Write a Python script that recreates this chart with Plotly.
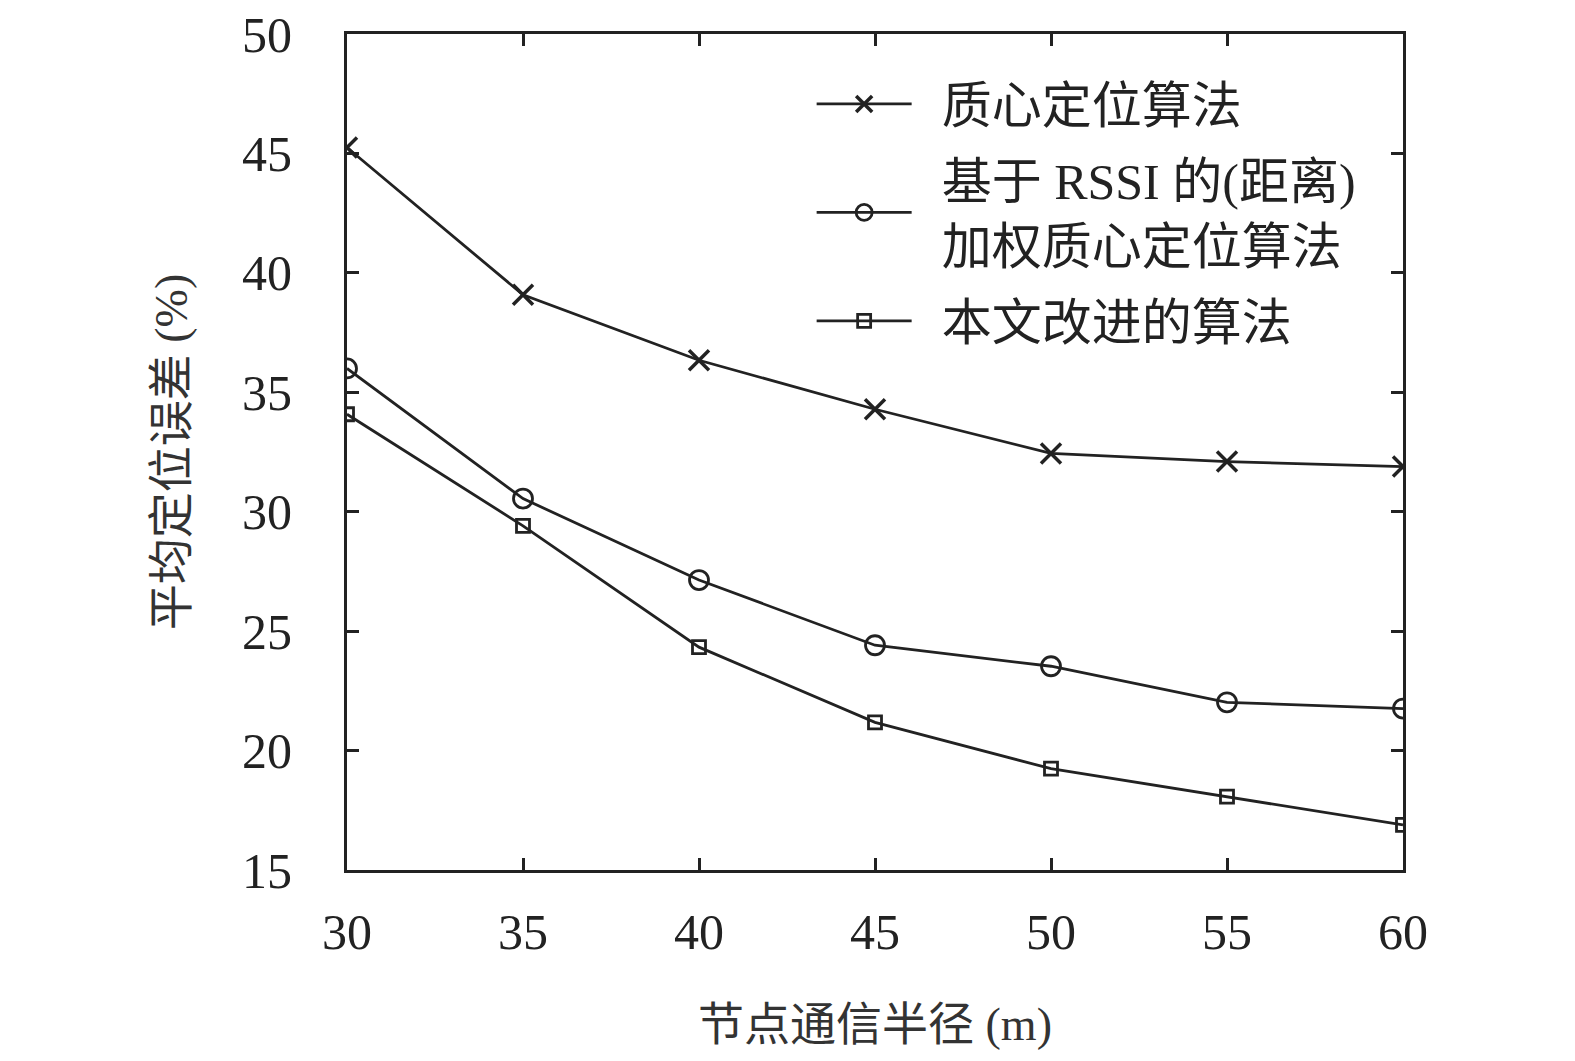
import plotly.graph_objects as go

radius = [30, 35, 40, 45, 50, 55, 60]
centroid = [45.25, 39.08, 36.34, 34.29, 32.44, 32.1, 31.89]
weighted = [36.0, 30.55, 27.14, 24.41, 23.53, 22.02, 21.76]
improved = [34.08, 29.41, 24.33, 21.18, 19.24, 18.07, 16.89]

pad = "\u00a0\u00a0"
names = [pad + "质心定位算法",
         pad + "基于 RSSI 的(距离)<br>" + pad + "加权质心定位算法",
         pad + "本文改进的算法"]

FONT = "Liberation Serif, Times New Roman, Noto Sans CJK SC, serif"
INK = "#222"

fig = go.Figure()
fig.add_trace(go.Scatter(x=radius, y=centroid, name=names[0], legendgroup="a",
                         mode="lines+markers", line=dict(color=INK, width=2.8),
                         marker=dict(symbol="x-thin", size=20, line=dict(color=INK, width=3.5))))
fig.add_trace(go.Scatter(x=radius, y=weighted, name=names[1], legendgroup="b",
                         mode="lines+markers", line=dict(color=INK, width=2.8),
                         marker=dict(symbol="circle-open", size=19, color=INK, line=dict(width=2.8))))
fig.add_trace(go.Scatter(x=radius, y=improved, name=names[2], legendgroup="c",
                         mode="lines+markers", line=dict(color=INK, width=2.8),
                         marker=dict(symbol="square-open", size=13, color=INK, line=dict(width=2.8))))

axis_common = dict(showline=True, linecolor=INK, linewidth=3, mirror="ticks",
                   ticks="inside", ticklen=12, tickwidth=3, tickcolor=INK,
                   showgrid=False, zeroline=False, ticklabeloverflow="allow",
                   tickfont=dict(family=FONT, size=50, color=INK))

fig.update_xaxes(range=[30, 60], dtick=5, ticklabelstandoff=16,
                 title=dict(text="节点通信半径 (m)", standoff=49,
                            font=dict(family=FONT, size=46, color="#333")), **axis_common)
fig.update_yaxes(range=[15, 50], dtick=5, ticklabelstandoff=42,
                 title=dict(text="平均定位误差 (%)", standoff=40,
                            font=dict(family=FONT, size=46, color="#333")), **axis_common)

fig.update_layout(
    width=1575, height=1061,
    margin=dict(l=339, r=180, t=26, b=199, autoexpand=False),
    plot_bgcolor="white", paper_bgcolor="white",
    font=dict(family=FONT, size=46, color=INK),
    legend=dict(x=0.44, y=0.963, xanchor="left", yanchor="top",
                bgcolor="rgba(0,0,0,0)", itemwidth=95, tracegroupgap=8,
                font=dict(family=FONT, size=50, color=INK)),
)

fig.write_html("out.html")
